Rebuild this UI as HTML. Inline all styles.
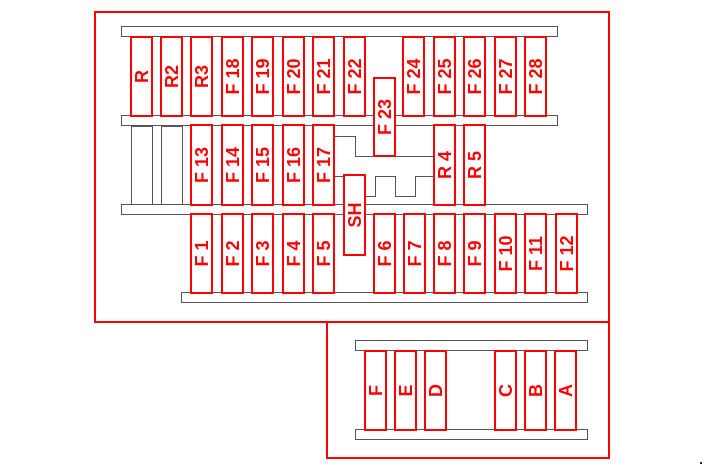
<!DOCTYPE html>
<html><head><meta charset="utf-8"><style>
html,body{margin:0;padding:0;background:#fff;width:705px;height:470px;overflow:hidden}
svg text{font-family:"Liberation Sans",Arial,sans-serif;font-weight:bold;font-size:18px;fill:#ff0000}
</style></head><body>
<svg width="705" height="470" viewBox="0 0 705 470" xmlns="http://www.w3.org/2000/svg">
<g fill="#fff" stroke="#555" stroke-width="1">
<rect x="121.5" y="26.5" width="436" height="10"/>
<rect x="121.5" y="115.5" width="436" height="10"/>
<rect x="121.5" y="204.5" width="466" height="10"/>
<rect x="181.5" y="292.5" width="406" height="10"/>
<rect x="131.5" y="126.5" width="21" height="78"/>
<rect x="161.5" y="126.5" width="21" height="78"/>
<rect x="355.5" y="340.5" width="232" height="10"/>
<rect x="355.5" y="429.5" width="232" height="10"/>
</g>
<g fill="none" stroke="#555" stroke-width="1">
<polyline points="335,136.5 355.5,136.5 355.5,156.5 434,156.5"/>
<polyline points="335,176.5 344,176.5"/>
<polyline points="365,196.5 375.5,196.5 375.5,176.5 395.5,176.5 395.5,196.5 415.5,196.5 415.5,176.5 434,176.5"/>
</g>
<g fill="none" stroke="#ff0000" stroke-width="2">
<rect x="95" y="12" width="514" height="310"/>
<rect x="327" y="322" width="282" height="136"/>
</g>
<g fill="#fff" stroke="#ff0000" stroke-width="2">
<rect x="131" y="37" width="21" height="79"/><rect x="161" y="37" width="21" height="79"/><rect x="191" y="37" width="21" height="79"/>
<rect x="222" y="37" width="21" height="79"/><rect x="252" y="37" width="21" height="79"/><rect x="283" y="37" width="21" height="79"/>
<rect x="313" y="37" width="21" height="79"/><rect x="344" y="37" width="21" height="79"/>
<rect x="403" y="37" width="21" height="79"/><rect x="434" y="37" width="21" height="79"/><rect x="464" y="37" width="21" height="79"/>
<rect x="495" y="37" width="21" height="79"/><rect x="525" y="37" width="21" height="79"/>
<rect x="374" y="78" width="21" height="78"/>
<rect x="191" y="125" width="21" height="80"/><rect x="222" y="125" width="21" height="80"/><rect x="252" y="125" width="21" height="80"/>
<rect x="283" y="125" width="21" height="80"/><rect x="313" y="125" width="21" height="80"/>
<rect x="434" y="125" width="21" height="80"/><rect x="464" y="125" width="21" height="80"/>
<rect x="344" y="175" width="21" height="80"/>
<rect x="191" y="214" width="21" height="79"/><rect x="222" y="214" width="21" height="79"/><rect x="252" y="214" width="21" height="79"/>
<rect x="283" y="214" width="21" height="79"/><rect x="313" y="214" width="21" height="79"/>
<rect x="374" y="214" width="21" height="79"/><rect x="404" y="214" width="21" height="79"/><rect x="434" y="214" width="21" height="79"/>
<rect x="464" y="214" width="21" height="79"/><rect x="495" y="214" width="21" height="79"/><rect x="525" y="214" width="21" height="79"/>
<rect x="556" y="214" width="21" height="79"/>
<rect x="365" y="351" width="21" height="79"/><rect x="395" y="351" width="21" height="79"/><rect x="425" y="351" width="21" height="79"/>
<rect x="495" y="351" width="21" height="79"/><rect x="525" y="351" width="21" height="79"/><rect x="555" y="351" width="21" height="79"/>
</g>
<g text-anchor="middle">
<text transform="translate(148,76.5) rotate(-90)">R</text>
<text transform="translate(178,76.5) rotate(-90)">R2</text>
<text transform="translate(208,76.5) rotate(-90)">R3</text>
<text transform="translate(239,76.5) rotate(-90)">F 18</text>
<text transform="translate(269,76.5) rotate(-90)">F 19</text>
<text transform="translate(300,76.5) rotate(-90)">F 20</text>
<text transform="translate(330,76.5) rotate(-90)">F 21</text>
<text transform="translate(361,76.5) rotate(-90)">F 22</text>
<text transform="translate(391,117) rotate(-90)">F 23</text>
<text transform="translate(420,76.5) rotate(-90)">F 24</text>
<text transform="translate(451,76.5) rotate(-90)">F 25</text>
<text transform="translate(481,76.5) rotate(-90)">F 26</text>
<text transform="translate(512,76.5) rotate(-90)">F 27</text>
<text transform="translate(542,76.5) rotate(-90)">F 28</text>
<text transform="translate(208,165) rotate(-90)">F 13</text>
<text transform="translate(239,165) rotate(-90)">F 14</text>
<text transform="translate(269,165) rotate(-90)">F 15</text>
<text transform="translate(300,165) rotate(-90)">F 16</text>
<text transform="translate(330,165) rotate(-90)">F 17</text>
<text transform="translate(451,165) rotate(-90)">R 4</text>
<text transform="translate(481,165) rotate(-90)">R 5</text>
<text transform="translate(361,215) rotate(-90)">SH</text>
<text transform="translate(208,253.5) rotate(-90)">F 1</text>
<text transform="translate(239,253.5) rotate(-90)">F 2</text>
<text transform="translate(269,253.5) rotate(-90)">F 3</text>
<text transform="translate(300,253.5) rotate(-90)">F 4</text>
<text transform="translate(330,253.5) rotate(-90)">F 5</text>
<text transform="translate(391,253.5) rotate(-90)">F 6</text>
<text transform="translate(421,253.5) rotate(-90)">F 7</text>
<text transform="translate(451,253.5) rotate(-90)">F 8</text>
<text transform="translate(481,253.5) rotate(-90)">F 9</text>
<text transform="translate(512,253.5) rotate(-90)">F 10</text>
<text transform="translate(542,253.5) rotate(-90)">F 11</text>
<text transform="translate(573,253.5) rotate(-90)">F 12</text>
<text transform="translate(382,390.5) rotate(-90)">F</text>
<text transform="translate(412,390.5) rotate(-90)">E</text>
<text transform="translate(442,390.5) rotate(-90)">D</text>
<text transform="translate(512,390.5) rotate(-90)">C</text>
<text transform="translate(542,390.5) rotate(-90)">B</text>
<text transform="translate(572,390.5) rotate(-90)">A</text>
</g>
<rect x="700" y="462" width="2" height="2" fill="#222"/>
</svg>
</body></html>
